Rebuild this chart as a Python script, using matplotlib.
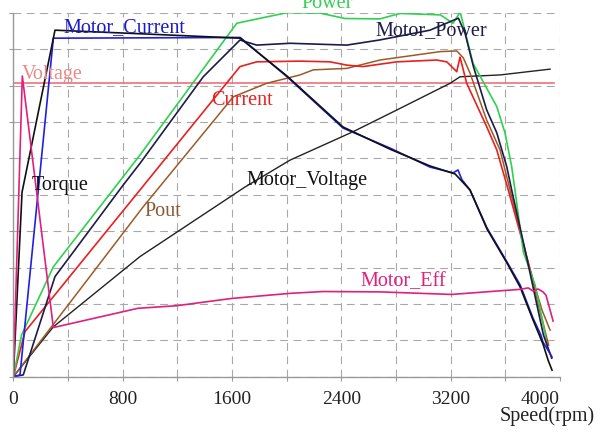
"""
Motor performance curves vs speed (normalised 0-10 scale, no y labels)
"""

import matplotlib
matplotlib.use("Agg")
import matplotlib.pyplot as plt
from matplotlib.ticker import MultipleLocator

# ---- data (rpm, normalised value) ----
voltage_rpm = [0, 3960]
voltage_val = [8.06, 8.06]

eff_rpm = [0, 66, 293, 913, 1196, 1598, 2025, 2266, 2683, 3208, 3563, 3709, 3768, 3805, 3840, 3876, 3898, 3950]
eff_val = [0, 8.26, 1.35, 1.88, 1.95, 2.15, 2.29, 2.34, 2.33, 2.26, 2.36, 2.40, 2.44, 2.35, 2.41, 2.33, 2.24, 1.53]

mcur_rpm = [0, 49, 293, 1000, 1660, 2003, 2413, 2757, 3049, 3218, 3254, 3283, 3342, 3466, 3613, 3709, 3803, 3860, 3876, 3913, 3942]
mcur_val = [0, 0.05, 9.30, 9.31, 9.32, 8.24, 6.83, 6.28, 5.76, 5.60, 5.68, 5.41, 5.13, 4.09, 3.15, 2.52, 1.61, 1.15, 0.95, 0.73, 0.54]

torque_rpm = [0, 64, 305, 1000, 1660, 2003, 2413, 2757, 3049, 3233, 3342, 3466, 3613, 3709, 3803, 3876, 3913, 3942]
torque_val = [0, 5.07, 9.52, 9.41, 9.30, 8.26, 6.86, 6.25, 5.79, 5.57, 5.13, 4.06, 3.12, 2.46, 1.56, 0.90, 0.46, 0.18]

power_rpm = [0, 61, 293, 927, 1635, 2001, 2245, 2427, 2683, 2830, 3125, 3218, 3270, 3364, 3538, 3598, 3647, 3671, 3732, 3818, 3879, 3913]
power_val = [0, 1.15, 3.02, 6.09, 9.71, 10.0, 9.99, 9.84, 9.83, 9.98, 9.94, 9.71, 10.02, 8.61, 7.42, 6.70, 5.77, 5.13, 3.43, 2.52, 1.42, 0.73]

mpow_rpm = [0, 73, 305, 805, 927, 1390, 1659, 1781, 2025, 2440, 2680, 3049, 3257, 3306, 3367, 3464, 3538, 3611, 3647, 3745, 3879, 3940]
mpow_val = [0, 0.05, 2.75, 5.27, 5.86, 8.24, 9.25, 9.11, 9.16, 9.11, 9.25, 9.52, 9.85, 9.43, 8.52, 7.33, 6.70, 5.77, 5.13, 3.48, 1.15, 0.51]

cur_rpm = [0, 86, 927, 1659, 1781, 2098, 2318, 2440, 2559, 2806, 3098, 3172, 3245, 3269, 3318, 3464, 3538, 3622, 3794, 3855, 3916]
cur_val = [0, 1.24, 5.13, 8.52, 8.65, 8.67, 8.65, 8.56, 8.52, 8.65, 8.70, 8.65, 8.38, 8.78, 8.06, 6.87, 6.23, 5.13, 2.79, 1.79, 0.87]

pout_rpm = [0, 951, 1610, 1854, 2098, 2195, 2440, 2683, 3122, 3245, 3293, 3342, 3464, 3562, 3635, 3781, 3869, 3928]
pout_val = [0, 4.67, 7.69, 8.06, 8.29, 8.43, 8.47, 8.70, 8.93, 8.95, 8.76, 8.34, 7.05, 6.23, 5.13, 2.93, 1.83, 1.28]

mvolt_rpm = [0, 293, 927, 1695, 2025, 2486, 2808, 3196, 3269, 3562, 3928]
mvolt_val = [0, 1.37, 3.30, 5.21, 5.95, 6.73, 7.33, 8.06, 8.24, 8.29, 8.45]

tick_rpm = [0, 800, 1600, 2400, 3200, 4000]
tick_labels = ["0", "800", "1600", "2400", "3200", "4000"]

# curve labels: text, rpm, value
label_names = ["Power", "Motor_Power", "Motor_Current", "Voltage", "Current",
               "Torque", "Pout", "Motor_Voltage", "Motor_Eff"]
label_rpm = [2110, 2647, 364, 61, 1447, 134, 963, 1703, 2538]
label_val = [10.13, 9.5, 9.58, 8.31, 7.6, 5.25, 4.53, 5.39, 2.61]

plt.rcParams['font.family'] = ['Liberation Serif', 'DejaVu Serif']


def draw_curves(ax):
    ax.plot(voltage_rpm, voltage_val, color='#f0707a', lw=1.2)
    ax.plot(mvolt_rpm, mvolt_val, color='#222222', lw=1.0)
    ax.plot(pout_rpm, pout_val, color='#9c5a28', lw=1.1)
    ax.plot(cur_rpm, cur_val, color='#e82020', lw=1.2)
    ax.plot(power_rpm, power_val, color='#30d050', lw=1.2)
    ax.plot(mpow_rpm, mpow_val, color='#1c1c48', lw=1.2)
    ax.plot(mcur_rpm, mcur_val, color='#2020e0', lw=1.2)
    ax.plot(torque_rpm, torque_val, color='#111111', lw=1.2)
    ax.plot(eff_rpm, eff_val, color='#e0207a', lw=1.2)


def draw_labels(ax):
    colours = ['#30d050', '#1c1c48', '#1a1acc', '#e88a8a', '#e82020',
               '#111111', '#8a5a30', '#111111', '#e0207a']
    for name, x, y, c in zip(label_names, label_rpm, label_val, colours):
        if name == "Power":
            # sits right on the top edge, as in the original
            ax.text(x, y, name, color=c, fontsize=14.5, ha='left', va='baseline', clip_on=False)
        else:
            ax.text(x, y, name, color=c, fontsize=14.5, ha='left', va='center')


def style_axes(ax):
    ax.set_xlim(0, 4000)
    ax.set_ylim(0, 10)
    ax.xaxis.set_major_locator(MultipleLocator(400))
    ax.yaxis.set_major_locator(MultipleLocator(1))
    ax.grid(True, color='#a8a8a8', lw=0.8, linestyle=(0, (7, 5)))
    ax.set_axisbelow(True)
    for side in ['top', 'right']:
        ax.spines[side].set_visible(False)
    for side in ['left', 'bottom']:
        ax.spines[side].set_color('#999999')
        ax.spines[side].set_linewidth(1.0)
    ax.tick_params(axis='both', colors='#999999', length=3, direction='out')
    ax.set_yticklabels([])
    # only every other vertical gridline carries a label
    ax.set_xticklabels([])
    for x, t in zip(tick_rpm, tick_labels):
        ha = 'right' if x == 4000 else 'center'
        ax.text(x, -0.38, t, fontsize=14, color='#222222', ha=ha, va='top')


fig = plt.figure(figsize=(6.02, 4.32), dpi=100)
ax = fig.add_axes([0.0221, 0.128, 0.908, 0.8426])
style_axes(ax)
draw_curves(ax)
draw_labels(ax)
fig.text(0.988, 0.036, "Speed(rpm)", fontsize=14.5, color='#222222', ha='right', va='center')

plt.savefig('out.png', dpi=100)
